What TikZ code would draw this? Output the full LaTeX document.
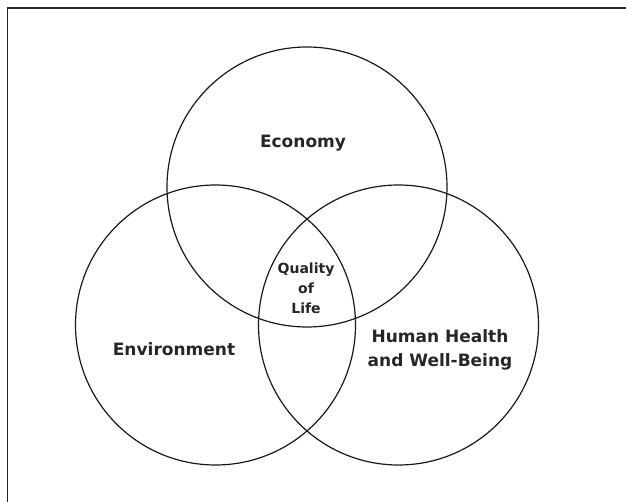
\documentclass[tikz,border=0pt]{standalone}
\usepackage{fontspec}
\setmainfont{DejaVu Sans}
\begin{document}
\begin{tikzpicture}[x=1pt, y=-1pt,
  ring/.style={line width=1.2pt, draw=black!90},
  bigtext/.style={font=\fontsize{17}{24}\selectfont\bfseries, text=black!85, align=center},
  smalltext/.style={font=\fontsize{14}{20}\selectfont\bfseries, text=black!85, align=center}]
\useasboundingbox (0,0) rectangle (626,502);

% Frame (only its top and left edges are in view)
\begin{scope}
\clip (0,0) rectangle (626,502);
\draw[line width=1.5pt, draw=black!85] (7.5,8) rectangle (660,540);
\end{scope}

% The three circles
\draw[ring] (307,187) circle (140pt);
\draw[ring] (215.5,325) circle (140pt);
\draw[ring] (398.5,325) circle (140pt);

% Labels
\node[bigtext] (economy) at (303,143) {Economy};
\node[bigtext] (environment) at (174,349) {Environment};
\node[bigtext] (health) at (440,350) {Human Health\\and Well-Being};
\node[smalltext] (quality) at (306,288) {Quality\\of\\Life};
\end{tikzpicture}
\end{document}
